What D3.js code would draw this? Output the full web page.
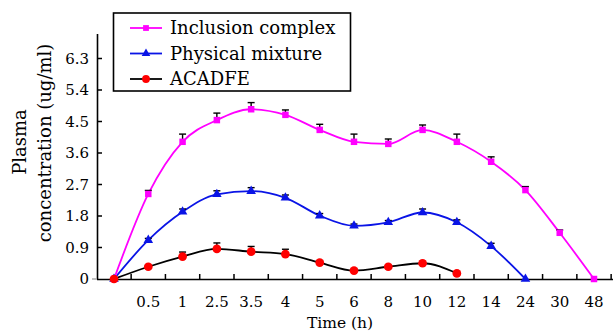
<!DOCTYPE html>
<html lang="en">
<head>
  <meta charset="UTF-8">
  <title>Plasma concentration</title>
  <style type="text/css">
    body { margin: 0; background: #fff; }
    svg { display: block; font-family: "DejaVu Serif", "Liberation Serif", serif; }
  </style>
</head>
<body>
<figure id="chart" style="margin:0"></figure>
<script src="https://cdn.jsdelivr.net/npm/d3@7"></script>
<script type="text/javascript">
  // x is categorical: sampling times (h)
  var times = ["0", "0.5", "1", "2.5", "3.5", "4", "5", "6", "8", "10", "12", "14", "24", "30", "48"];
  var yTicks = [0, 0.9, 1.8, 2.7, 3.6, 4.5, 5.4, 6.3];

  var inclusion    = [0, 2.43, 3.92, 4.54, 4.85, 4.69, 4.26, 3.92, 3.86, 4.26, 3.92, 3.35, 2.54, 1.32, 0];
  var inclusionErr = [0, 0.10, 0.22, 0.20, 0.19, 0.14, 0.16, 0.22, 0.14, 0.14, 0.22, 0.14, 0.10, 0.08, 0];
  var physical     = [0, 1.11, 1.92, 2.42, 2.51, 2.32, 1.81, 1.52, 1.62, 1.90, 1.62, 0.94, 0];
  var physicalErr  = [0, 0.05, 0.08, 0.10, 0.10, 0.08, 0.06, 0.05, 0.05, 0.10, 0.07, 0.08, 0];
  var acadfe       = [0, 0.35, 0.64, 0.86, 0.78, 0.71, 0.47, 0.24, 0.35, 0.45, 0.16];
  var acadfeErr    = [0, 0.04, 0.13, 0.17, 0.15, 0.14, 0.05, 0.04, 0.04, 0.05, 0.03];

  var series = [
    { name: "Inclusion complex", values: inclusion, err: inclusionErr, line: "#ff00ff", marker: "#ff00ff", shape: d3.symbolSquare, size: 42 },
    { name: "Physical mixture", values: physical, err: physicalErr, line: "#0a14e6", marker: "#0a14e6", shape: d3.symbolTriangle, size: 40 },
    { name: "ACADFE", values: acadfe, err: acadfeErr, line: "#000", marker: "#ff0000", shape: d3.symbolCircle, size: 60 }
  ];

  var width = 613, height = 331;
  var x = d3.scalePoint().domain(times).range([114, 594]);
  var y = d3.scaleLinear().domain([0, 7]).range([279, 34]);
  var step = x.step();

  var svg = d3.select("#chart").append("svg")
    .attr("width", width).attr("height", height);

  // y axis
  svg.append("line").attr("x1", 97.5).attr("x2", 97.5).attr("y1", y(7)).attr("y2", y(0))
    .attr("stroke", "#000").attr("stroke-width", 1.6);
  svg.append("line").attr("x1", 92).attr("x2", 97).attr("y1", y(0)).attr("y2", y(0))
    .attr("stroke", "#aaa").attr("stroke-width", 1.5);
  var yt = svg.append("g").selectAll("g").data(yTicks).join("g")
    .attr("transform", d => "translate(0," + y(d) + ")");
  yt.filter(d => d > 0).append("line").attr("x1", 97).attr("x2", 102)
    .attr("stroke", "#000").attr("stroke-width", 1.5);
  yt.append("text").attr("x", 89).attr("dy", "0.35em").attr("text-anchor", "end")
    .attr("font-size", 15).text(d => d === 0 ? "0" : d.toFixed(1));

  // x axis, ticks sit between categories
  svg.append("line").attr("x1", 97).attr("x2", 613).attr("y1", y(0) + 0.5).attr("y2", y(0) + 0.5)
    .attr("stroke", "#000").attr("stroke-width", 1.6);
  var mids = times.map((t, i) => x(t) + step / 2);
  svg.append("g").selectAll("line").data(mids).join("line")
    .attr("x1", d => d).attr("x2", d => d).attr("y1", y(0)).attr("y2", y(0) - 5)
    .attr("stroke", "#000").attr("stroke-width", 1.5);
  svg.append("g").selectAll("text").data(times.slice(1)).join("text")
    .attr("x", d => x(d)).attr("y", 307).attr("text-anchor", "middle")
    .attr("font-size", 15).text(d => d);

  svg.append("text").attr("x", 340).attr("y", 328).attr("text-anchor", "middle")
    .attr("font-size", 15.5).text("Time (h)");
  svg.append("text").attr("transform", "translate(26,142) rotate(-90)").attr("text-anchor", "middle")
    .attr("font-size", 18).text("Plasma");
  svg.append("text").attr("transform", "translate(51,143) rotate(-90)").attr("text-anchor", "middle")
    .attr("font-size", 18).text("concentration (ug/ml)");

  var line = d3.line()
    .x((d, i) => x(times[i]))
    .y(d => y(d))
    .curve(d3.curveMonotoneX);

  // lines first, then error bars, then markers
  series.slice().reverse().forEach(function (s) {
    svg.append("path").attr("d", line(s.values))
      .attr("fill", "none").attr("stroke", s.line).attr("stroke-width", 1.8);
  });

  series.forEach(function (s) {
    var g = svg.append("g").attr("stroke", "#000").attr("stroke-width", 1.4);
    s.values.forEach(function (v, i) {
      if (!s.err[i]) return;
      var cx = x(times[i]), top = y(v + s.err[i]);
      g.append("line").attr("x1", cx).attr("x2", cx).attr("y1", y(v)).attr("y2", top);
      g.append("line").attr("x1", cx - 3.5).attr("x2", cx + 3.5).attr("y1", top).attr("y2", top);
    });
  });

  series.forEach(function (s) {
    svg.append("g").selectAll("path").data(s.values).join("path")
      .attr("transform", (d, i) => "translate(" + x(times[i]) + "," + y(d) + ")")
      .attr("d", d3.symbol().type(s.shape).size(s.size))
      .attr("fill", s.marker);
  });

  // legend
  var lg = svg.append("g");
  lg.append("rect").attr("x", 113.5).attr("y", 13).attr("width", 237).attr("height", 78)
    .attr("fill", "#fff").attr("stroke", "#000").attr("stroke-width", 1.6);
  series.forEach(function (s, i) {
    var ly = 28 + i * 25.5;
    lg.append("line").attr("x1", 130).attr("x2", 162).attr("y1", ly).attr("y2", ly)
      .attr("stroke", s.line).attr("stroke-width", 1.8);
    lg.append("path").attr("transform", "translate(146," + ly + ")")
      .attr("d", d3.symbol().type(s.shape).size(s.size * 0.8)).attr("fill", s.marker);
    lg.append("text").attr("x", 170).attr("y", ly).attr("dy", "0.35em")
      .attr("font-size", 18).text(s.name);
  });
</script>
</body>
</html>
